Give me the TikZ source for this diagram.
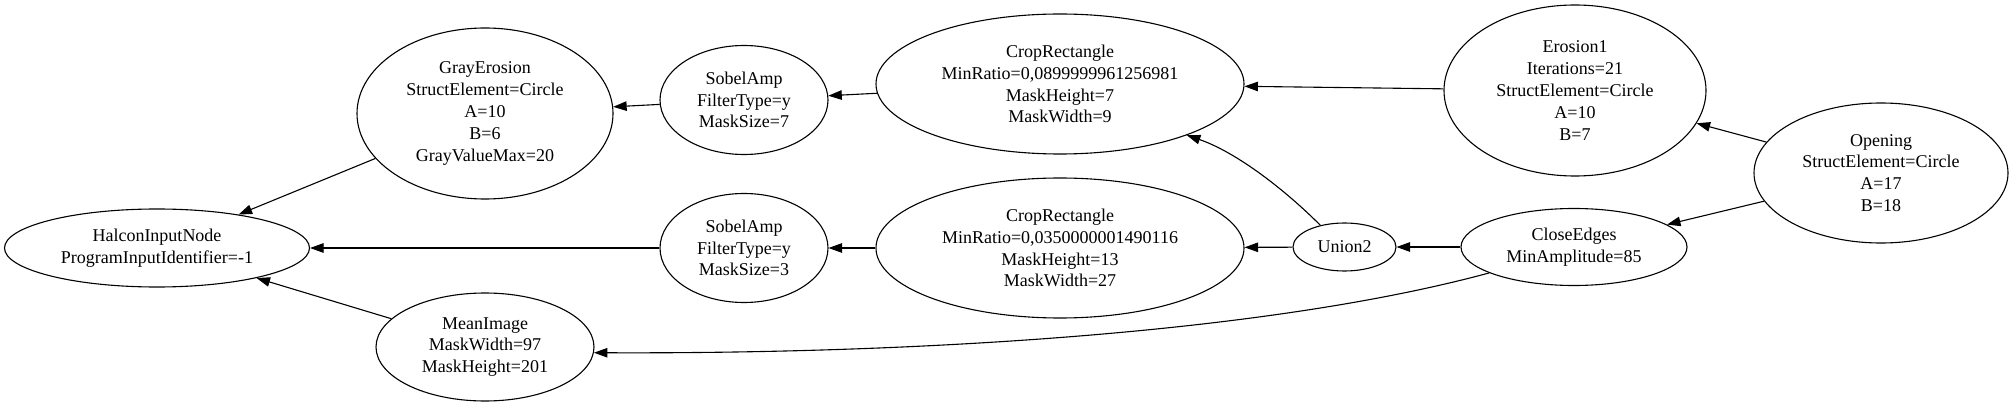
\documentclass[tikz,border=0pt]{standalone}
\usepackage{fontspec}
\setmainfont{Liberation Serif}
\usetikzlibrary{shapes.geometric,arrows.meta}
\begin{document}
\begin{tikzpicture}[x=1pt,y=-1pt,
  op/.style={ellipse,draw,line width=1.1pt,inner sep=0pt,align=center,
    font=\fontsize{18}{21.8}\selectfont},
  edge/.style={line width=1.1pt,-{Triangle[length=13.5pt,width=9.5pt]}}]
\useasboundingbox (0,0) rectangle (2014,406);
\node[op,minimum width=305pt,minimum height=78pt] (halcon) at (157,248)
  {HalconInputNode\\ProgramInputIdentifier=-1};
\node[op,minimum width=256pt,minimum height=171pt] (grayerosion) at (485,113.5)
  {GrayErosion\\StructElement=Circle\\A=10\\B=6\\GrayValueMax=20};
\node[op,minimum width=218pt,minimum height=108pt] (meanimage) at (485,347)
  {MeanImage\\MaskWidth=97\\MaskHeight=201};
\node[op,minimum width=168pt,minimum height=109pt] (sobeltop) at (744,100)
  {SobelAmp\\FilterType=y\\MaskSize=7};
\node[op,minimum width=168pt,minimum height=109pt] (sobelbot) at (744,248)
  {SobelAmp\\FilterType=y\\MaskSize=3};
\node[op,minimum width=368pt,minimum height=140pt] (croptop) at (1060,84)
  {CropRectangle\\MinRatio=0,0899999961256981\\MaskHeight=7\\MaskWidth=9};
\node[op,minimum width=368pt,minimum height=140pt] (cropbot) at (1060,248)
  {CropRectangle\\MinRatio=0,0350000001490116\\MaskHeight=13\\MaskWidth=27};
\node[op,minimum width=103pt,minimum height=48pt] (union) at (1344.5,247)
  {Union2};
\node[op,minimum width=226pt,minimum height=77pt] (closeedges) at (1574,247)
  {CloseEdges\\MinAmplitude=85};
\node[op,minimum width=262pt,minimum height=171pt] (erosion) at (1575,90.5)
  {Erosion1\\Iterations=21\\StructElement=Circle\\A=10\\B=7};
\node[op,minimum width=254pt,minimum height=140pt] (opening) at (1881,173)
  {Opening\\StructElement=Circle\\A=17\\B=18};

\draw[edge] (grayerosion) -- (halcon);
\draw[edge] (meanimage) -- (halcon);
\draw[edge] (sobelbot) -- (halcon);
\draw[edge] (sobeltop) -- (grayerosion);
\draw[edge] (croptop) -- (sobeltop);
\draw[edge] (cropbot) -- (sobelbot);
\draw[edge] (erosion) -- (croptop);
\draw[edge] (opening) -- (erosion);
\draw[edge] (opening) -- (closeedges);
\draw[edge] (closeedges) -- (union);
\draw[edge] (union) -- (cropbot);
\draw[edge] (union.138) .. controls (1280,185) and (1233,151) .. (croptop.338);
\draw[edge] (closeedges.197) .. controls (1260,335) and (900,354) .. (meanimage.357);
\end{tikzpicture}
\end{document}
